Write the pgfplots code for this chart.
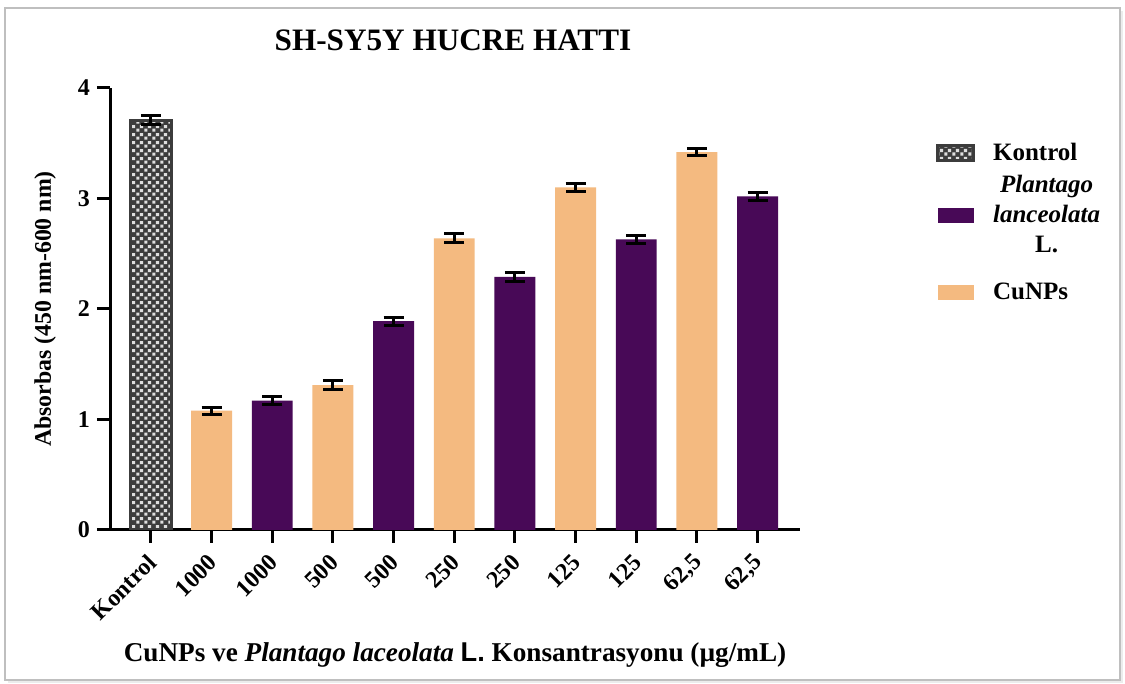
\documentclass[border=0pt]{standalone}
\usepackage{fontspec}
\setmainfont{Liberation Serif}
\newfontfamily\arialfont{Liberation Sans}
\usepackage{pgfplots}
\pgfplotsset{compat=1.18}
\usetikzlibrary{patterns}
\definecolor{peach}{RGB}{244,186,128}
\definecolor{plum}{RGB}{72,9,87}
\definecolor{kgray}{RGB}{60,60,60}
\definecolor{klight}{RGB}{222,222,222}
\pgfdeclarepatternformonly{smallcheck}{\pgfpointorigin}{\pgfqpoint{4pt}{4pt}}{\pgfqpoint{4pt}{4pt}}{%
  \pgfpathrectangle{\pgfqpoint{0.15pt}{0.15pt}}{\pgfqpoint{1.75pt}{1.75pt}}%
  \pgfpathrectangle{\pgfqpoint{2.15pt}{2.15pt}}{\pgfqpoint{1.75pt}{1.75pt}}%
  \pgfusepath{fill}}
\pgfplotsset{
  boxlegend/.style={legend image code/.code={\path[##1] (0pt,-3.75pt) rectangle (18pt,3.75pt);}},
  lowboxlegend/.style={legend image code/.code={\path[##1] (0pt,-7.25pt) rectangle (18pt,0.25pt);}},
}
\begin{document}
\begin{tikzpicture}
\useasboundingbox (0,0) rectangle (562.5pt,342pt);
\fill[gray!15] (4pt,0.5pt) rectangle (561.5pt,336.5pt);
\draw[gray!50, line width=1pt, fill=white] (2.5pt,2pt) rectangle (560pt,338pt);
\begin{axis}[
  at={(55pt,77pt)}, anchor=south west,
  scale only axis, width=345pt, height=221pt,
  xmin=-0.675, xmax=10.7, ymin=0, ymax=4,
  axis lines=left,
  axis line style={-, line width=1.5pt, black},
  tick align=outside,
  major tick length=6.5pt,
  major tick style={line width=1.5pt, black},
  xtick={0,1,2,3,4,5,6,7,8,9,10},
  xticklabels={Kontrol,1000,1000,500,500,250,250,125,125,{62,5},{62,5}},
  ytick={0,1,2,3,4},
  /pgf/number format/assume math mode=true,
  tick label style={font=\bfseries\fontsize{12}{14}\selectfont},
  xticklabel style={xshift=1.5pt, yshift=-7pt, rotate=45, anchor=east, inner sep=1pt},
  ylabel={Absorbas (450 nm-600 nm)},
  ylabel style={at={(axis description cs:-0.094,0.5)}, anchor=center, font=\bfseries\fontsize{11.9}{14}\selectfont},
  xlabel={CuNPs ve \textit{Plantago laceolata} {\arialfont L.} Konsantrasyonu (µg/mL)},
  xlabel style={at={(axis description cs:0.5,-0.283)}, anchor=center, font=\bfseries\fontsize{13.6}{16}\selectfont},
  ybar, bar width=0.675,
  legend style={at={(axis description cs:1.188,0.894)}, anchor=north west, draw=none, fill=none,
    font=\bfseries\fontsize{12.5}{15}\selectfont, cells={align=center}, row sep=2pt,
    /tikz/every odd column/.append style={column sep=7pt}},
  legend cell align=left,
  boxlegend,
  error bars/y dir=both, error bars/y explicit,
  error bars/error bar style={line width=1.5pt, black},
  error bars/error mark options={line width=1.5pt, black, mark size=5pt, rotate=90},
]
\addplot[bar shift=0pt, fill=kgray, draw=kgray, line width=1.5pt,
  postaction={pattern=smallcheck, pattern color=klight}]
  coordinates {(0,3.71) +- (0,0.04)};
\addlegendentry{Kontrol}
\addplot[bar shift=0pt, fill=plum, draw=none]
  coordinates {(2,1.17) +- (0,0.035) (4,1.89) +- (0,0.035) (6,2.29) +- (0,0.04) (8,2.63) +- (0,0.035) (10,3.02) +- (0,0.035)};
\addlegendentry{\textit{Plantago}\\\textit{lanceolata}\\L.}
\addplot[bar shift=0pt, fill=peach, draw=none, lowboxlegend]
  coordinates {(1,1.08) +- (0,0.033) (3,1.31) +- (0,0.04) (5,2.64) +- (0,0.04) (7,3.10) +- (0,0.035) (9,3.42) +- (0,0.035)};
\addlegendentry{\rule{0pt}{16pt}CuNPs}
\end{axis}
\node[font=\bfseries\fontsize{15.6}{18}\selectfont] at (226.5pt,322pt) {SH-SY5Y HUCRE HATTI};
\end{tikzpicture}
\end{document}
